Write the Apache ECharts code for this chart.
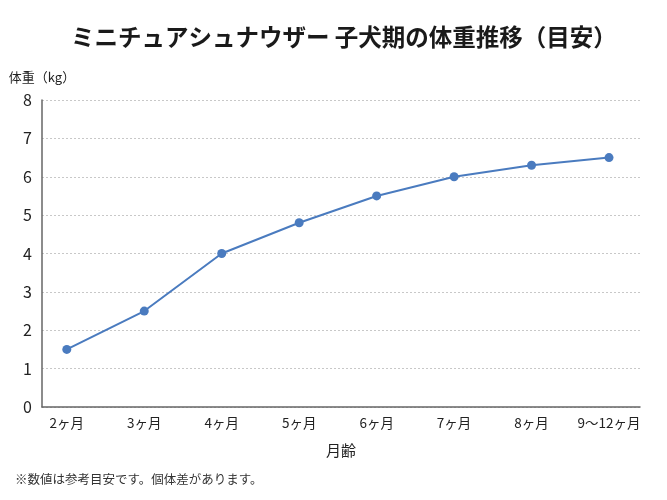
<!DOCTYPE html>
<html>
<head>
<meta charset="utf-8">
<script src="https://cdn.jsdelivr.net/npm/echarts@6/dist/echarts.min.js"></script>
<style>
html, body { margin: 0; padding: 0; background: #fff; }
#chart { width: 667px; height: 500px; }
</style>
</head>
<body>
<div id="chart"></div>
<script>
// 月齢ごとの体重目安 (kg)
var MONTHS = ['2ヶ月', '3ヶ月', '4ヶ月', '5ヶ月', '6ヶ月', '7ヶ月', '8ヶ月', '9〜12ヶ月'];
var WEIGHTS = [1.5, 2.5, 4.0, 4.8, 5.5, 6.0, 6.3, 6.5];
var Y_TICKS = [0, 1, 2, 3, 4, 5, 6, 7, 8];

var FONT = '"Noto Sans CJK JP", "Noto Sans", sans-serif';
var LINE_COLOR = '#4a7bbf';

var myChart = echarts.init(document.getElementById('chart'));

var points = WEIGHTS.map(function(v, i) { return [i, v]; });

var option = {
	animation: false,
	textStyle: { fontFamily: FONT },
	title: [{
		text: 'ミニチュアシュナウザー 子犬期の体重推移（目安）',
		left: 66,
		top: 20,
		textStyle: { fontFamily: FONT, fontSize: 23.5, fontWeight: 'bold', color: '#1a1a1a' }
	}, {
		text: '※数値は参考目安です。個体差があります。',
		left: 10,
		top: 468,
		textStyle: { fontFamily: FONT, fontSize: 12.5, fontWeight: 'normal', color: '#333' }
	}],
	grid: { left: 42, right: 27, top: 100, bottom: 93 },
	xAxis: {
		type: 'value',
		min: -0.32,
		max: 7.4,
		name: '月齢',
		nameLocation: 'middle',
		nameGap: 36,
		nameTextStyle: { fontFamily: FONT, fontSize: 15, color: '#222' },
		axisLine: { show: true, onZero: false, lineStyle: { color: '#666', width: 1.5 } },
		axisTick: { show: false },
		splitLine: { show: false },
		axisLabel: {
			customValues: MONTHS.map(function(m, i) { return i; }),
			formatter: function(v) { return MONTHS[Math.round(v)]; },
			fontFamily: FONT,
			fontSize: 13.5,
			color: '#222',
			margin: 9
		}
	},
	yAxis: {
		type: 'value',
		min: 0,
		max: 8,
		interval: 1,
		name: '体重（kg）',
		nameLocation: 'end',
		nameGap: 23,
		nameTextStyle: { fontFamily: FONT, fontSize: 13, color: '#222', verticalAlign: 'middle' },
		axisLine: { show: true, onZero: false, lineStyle: { color: '#666', width: 1.5 } },
		axisTick: { show: false },
		axisLabel: {
			formatter: function(v) { return Y_TICKS.indexOf(v) >= 0 ? String(v) : ''; },
			fontFamily: FONT,
			fontSize: 16,
			color: '#222',
			margin: 10
		},
		splitLine: { show: true, lineStyle: { color: '#c8c8c8', type: [2, 2], width: 1 } }
	},
	series: [{
		type: 'line',
		data: points,
		symbol: 'circle',
		symbolSize: 9,
		lineStyle: { color: LINE_COLOR, width: 2 },
		itemStyle: { color: LINE_COLOR }
	}]
};

myChart.setOption(option);
</script>
</body>
</html>
